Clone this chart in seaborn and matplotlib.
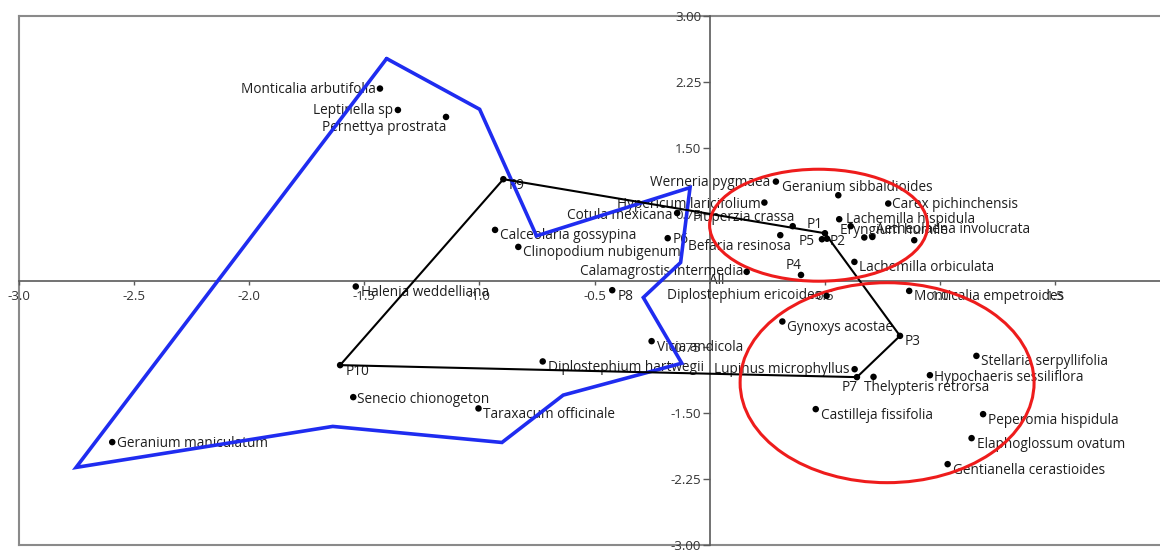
import matplotlib
matplotlib.use("Agg")
import matplotlib.pyplot as plt
from matplotlib.patches import Ellipse
import numpy as np
import pandas as pd
import seaborn as sns

# ---------------- data ----------------
species_names = [
    "Monticalia arbutifolia", "Leptinella sp", "Pernettya prostrata", "Werneria pygmaea",
    "Geranium sibbaldioides", "Hypericum laricifolium", "Carex pichinchensis", "Cotula mexicana",
    "Huperzia crassa", "Lachemilla hispidula", "Eryngium humile", "Aetheolaena involucrata",
    "", "", "Befaria resinosa", "Lachemilla orbiculata", "Calamagrostis intermedia",
    "Calceolaria gossypina", "Clinopodium nubigenum", "Halenia weddelliana",
    "Monticalia empetroides", "Diplostephium ericoides", "Gynoxys acostae", "Vicia andicola",
    "Stellaria serpyllifolia", "Diplostephium hartwegii", "Lupinus microphyllus",
    "Thelypteris retrorsa", "Hypochaeris sessiliflora", "Senecio chionogeton",
    "Taraxacum officinale", "Castilleja fissifolia", "Peperomia hispidula",
    "Elaphoglossum ovatum", "Geranium maniculatum", "Gentianella cerastioides",
]
species_x = [
    -1.432, -1.354, -1.145, 0.288,
    0.559, 0.238, 0.776, -0.141,
    0.361, 0.563, 0.613, 0.707,
    0.672, 0.889, 0.307, 0.629, 0.161,
    -0.932, -0.831, -1.537,
    0.867, 0.508, 0.316, -0.252,
    1.159, -0.725, 0.630,
    0.712, 0.957, -1.548,
    -1.004, 0.461, 1.188,
    1.138, -2.595, 1.034,
]
species_y = [
    2.177, 1.934, 1.855, 1.122,
    0.967, 0.884, 0.873, 0.765,
    0.616, 0.695, 0.616, 0.494,
    0.488, 0.457, 0.514, 0.211, 0.098,
    0.574, 0.381, -0.068,
    -0.118, -0.175, -0.465, -0.688,
    -0.855, -0.918, -1.006,
    -1.093, -1.074, -1.323,
    -1.451, -1.459, -1.516,
    -1.788, -1.833, -2.083,
]

site_names = ["P1", "P2", "P3", "P4", "P5", "P6", "P7", "P8", "P9", "P10"]
site_x = [0.501, 0.510, 0.827, 0.397, 0.488, -0.182, 0.640, -0.423, -0.896, -1.605]
site_y = [0.536, 0.474, -0.628, 0.063, 0.468, 0.480, -1.096, -0.110, 1.149, -0.960]
site_hull_order = ["P9", "P1", "P3", "P7", "P10", "P9"]

group_hull_x = [-1.403, -0.999, -0.752, -0.085, -0.126, -0.288, -0.121, -0.636,
                -0.902, -1.637, -2.752, -1.403]
group_hull_y = [2.517, 1.942, 0.506, 1.054, 0.204, -0.193, -0.938, -1.300,
                -1.837, -1.655, -2.120, 2.517]

x_ticks = [-3.0, -2.5, -2.0, -1.5, -1.0, -0.5, 0.5, 1.0, 1.5]
y_ticks = [-3.0, -2.25, -1.5, -0.75, 0.75, 1.5, 2.25, 3.0]

# ---------------- layout of labels (pixel offsets: dx right, dy down) ----------------
label_layout = {
    "Monticalia arbutifolia": (-4, 1, "right"),
    "Leptinella sp": (-5, 1, "right"),
    "Pernettya prostrata": (0, 11, "right"),
    "Werneria pygmaea": (-6, 1, "right"),
    "Hypericum laricifolium": (-4, 2, "right"),
    "Cotula mexicana": (-5, 2, "right"),
    "Huperzia crassa": (2, -9, "right"),
    "Befaria resinosa": (11, 11, "right"),
    "Calamagrostis intermedia": (-3, 0, "right"),
    "Diplostephium ericoides": (-5, 0, "right"),
    "Lupinus microphyllus": (-5, 0, "right"),
    "Geranium sibbaldioides": (-56, -8, "left"),
    "Thelypteris retrorsa": (-10, 11, "left"),
    "Eryngium humile": (-11, 4, "left"),
    "Aetheolaena involucrata": (4, -7, "left"),
    "Hypochaeris sessiliflora": (4, 2, "left"),
    "Senecio chionogeton": (4, 2, "left"),
    "Geranium maniculatum": (5, 1, "left"),
    "Carex pichinchensis": (4, 1, "left"),
    "Lachemilla hispidula": (7, 0, "left"),
    "P1": (-2, -9, "right"),
    "P5": (-7, 2, "right"),
    "P2": (3, 3, "left"),
    "P4": (1, -9, "right"),
    "P6": (5, 1, "left"),
    "P7": (1, 10, "right"),
}
default_layout = (5, 6, "left")

# ---------------- figure ----------------
sns.set_theme(style="white")
plt.rcParams["font.family"] = ["Open Sans", "DejaVu Sans"]
plt.rcParams["axes.unicode_minus"] = False

W, H = 1160, 550
fig = plt.figure(figsize=(W / 100, H / 100), dpi=100)
fig.patch.set_facecolor("white")
rect = [19 / W, 5 / H, 1 - 19 / W, 529 / H]

frame = fig.add_axes(rect, zorder=0)
frame.set_xticks([]); frame.set_yticks([])
for s in ["left", "top", "bottom"]:
    frame.spines[s].set_color("#8a8a8a")
    frame.spines[s].set_linewidth(1.5)
frame.spines["right"].set_visible(False)
frame.set_facecolor("white")

ax = fig.add_axes(rect, zorder=1)
ax.patch.set_alpha(0)
ax.set_xlim(-3.0, 1.9565)
ax.set_ylim(-3.0, 3.0)

for s in ["left", "bottom"]:
    ax.spines[s].set_position(("data", 0))
    ax.spines[s].set_color("#5a5a5a")
    ax.spines[s].set_linewidth(1.2)
    ax.spines[s].set_zorder(1.5)
ax.spines["top"].set_visible(False)
ax.spines["right"].set_visible(False)

tick_fs = 9.6
ax.set_xticks(x_ticks)
ax.set_xticklabels([f"{t:.1f}" for t in x_ticks])
ax.set_yticks(y_ticks)
ax.set_yticklabels([f"{t:.2f}" for t in y_ticks])
ax.tick_params(axis="x", direction="out", length=3, width=1, color="#5a5a5a",
               pad=3.5, labelsize=tick_fs, labelcolor="#333333", bottom=True)
ax.tick_params(axis="y", direction="out", length=5, width=1, color="#5a5a5a",
               pad=1, labelsize=tick_fs, labelcolor="#333333", left=True)
ax.set_xlabel(""); ax.set_ylabel("")

fs = 9.8
txt_color = "#1e1e1e"

# origin label
ax.annotate("All", (0, 0), xytext=(-1, 0), textcoords="offset pixels",
            ha="left", va="center", fontsize=fs, color=txt_color, zorder=1)

# point labels
for name, x, y in list(zip(species_names, species_x, species_y)) + list(zip(site_names, site_x, site_y)):
    if not name:
        continue
    dx, dy, ha = label_layout.get(name, default_layout)
    ax.annotate(name, (x, y), xytext=(dx, -dy), textcoords="offset pixels",
                ha=ha, va="center", fontsize=fs, color=txt_color, zorder=2)

# group hull (blue)
ax.plot(group_hull_x, group_hull_y, color="#1f2cf0", lw=2.6, zorder=3,
        solid_joinstyle="miter")

# site hull (black)
site_df = pd.DataFrame({"site": site_names, "x": site_x, "y": site_y}).set_index("site")
hull = site_df.loc[site_hull_order]
ax.plot(hull["x"], hull["y"], color="black", lw=1.5, zorder=3)

# highlight ellipses (red)
for cx, cy, w, h in [(0.4735, 0.627, 0.947, 1.27), (0.771, -1.159, 1.277, 2.268)]:
    ax.add_patch(Ellipse((cx, cy), w, h, fill=False, edgecolor="#ee1c1c", lw=2.2, zorder=3))

# points
pts = pd.DataFrame({
    "x": list(species_x) + list(site_x),
    "y": list(species_y) + list(site_y),
})
sns.scatterplot(data=pts, x="x", y="y", ax=ax, color="black", s=22,
                edgecolor="none", zorder=4, legend=False)
ax.set_xlabel(""); ax.set_ylabel("")

fig.savefig("out.png", dpi=100, facecolor="white")
